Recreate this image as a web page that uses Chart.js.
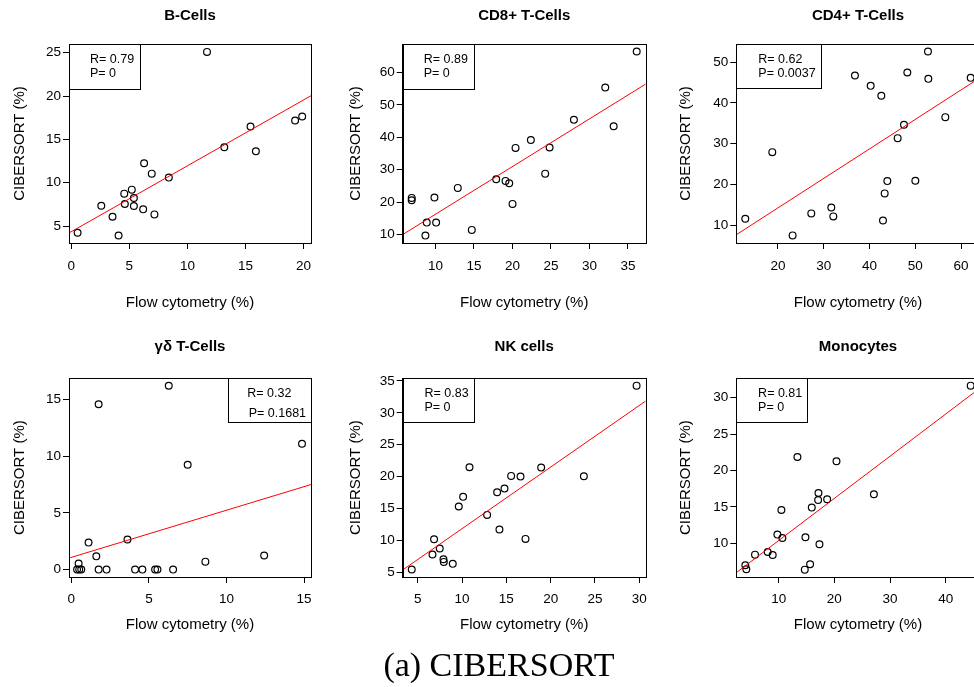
<!DOCTYPE html>
<html>
<head>
<meta charset="utf-8">
<script src="https://cdn.jsdelivr.net/npm/chart.js@4.4.1/dist/chart.umd.min.js"></script>
<style>
  html, body { margin: 0; padding: 0; background: #fff; }
  #page { position: relative; width: 974px; height: 687px; overflow: hidden; background: #fff; }
  canvas { position: absolute; }
  #caption {
    position: absolute; left: 0; width: 998px; top: 648px; text-align: center;
    font-family: "Liberation Serif", "DejaVu Serif", serif; font-size: 34px; line-height: 34px; color: #000;
  }
</style>
</head>
<body>
<div id="page">
  <canvas id="c1"></canvas>
  <canvas id="c2"></canvas>
  <canvas id="c3"></canvas>
  <canvas id="c4"></canvas>
  <canvas id="c5"></canvas>
  <canvas id="c6"></canvas>
  <div id="caption">(a) CIBERSORT</div>
</div>
<script>
// Данные
const bX = [0.54, 2.58, 3.55, 4.07, 4.56, 4.61, 5.21, 5.39, 5.39, 6.27, 6.19, 6.93, 7.16, 8.4, 11.69, 13.18, 15.44, 15.9, 19.28, 19.89];
const bY = [4.23, 7.35, 6.08, 3.92, 8.74, 7.54, 9.2, 8.24, 7.31, 12.24, 6.93, 11.05, 6.35, 10.59, 25.09, 14.09, 16.48, 13.63, 17.18, 17.64];
const bFit = [4.36, 0.759];
const bStats = ['R= 0.79', 'P= 0'];
const bXTicks = [0, 5, 10, 15, 20];
const bYTicks = [5, 10, 15, 20, 25];

const cd8X = [6.92, 6.92, 8.7, 8.87, 9.87, 10.09, 12.9, 14.72, 17.89, 19.1, 19.58, 20.01, 20.4, 22.39, 24.25, 24.82, 27.98, 32.05, 33.14, 36.13];
const cd8Y = [21.32, 20.6, 9.69, 13.7, 21.42, 13.7, 24.4, 11.44, 27.08, 26.56, 25.84, 19.47, 36.75, 39.2, 28.8, 36.85, 45.4, 55.37, 43.44, 66.48];
const cd8Fit = [1.54, 1.472];
const cd8Stats = ['R= 0.89', 'P= 0'];
const cd8XTicks = [10, 15, 20, 25, 30, 35];
const cd8YTicks = [10, 20, 30, 40, 50, 60];

const cd4X = [12.86, 18.76, 23.2, 27.28, 31.65, 32.09, 36.82, 40.25, 42.58, 42.94, 43.31, 43.89, 46.15, 47.53, 48.26, 50.01, 52.77, 52.85, 56.56, 62.1];
const cd4Y = [11.55, 27.9, 7.47, 12.86, 14.33, 12.13, 46.71, 44.18, 41.73, 11.14, 17.77, 20.79, 31.34, 34.61, 47.45, 20.87, 52.6, 45.9, 36.49, 46.14];
const cd4Fit = [-0.26, 0.724];
const cd4Stats = ['R= 0.62', 'P= 0.0037'];
const cd4XTicks = [20, 30, 40, 50, 60];
const cd4YTicks = [10, 20, 30, 40, 50];

const gdX = [0.37, 0.51, 0.64, 0.47, 1.11, 1.61, 1.76, 1.76, 2.27, 3.62, 4.11, 4.58, 5.4, 5.55, 6.28, 6.56, 7.5, 8.64, 12.43, 14.87];
const gdY = [0, 0, 0, 0.53, 2.38, 1.17, 14.56, 0, 0, 2.65, 0, 0, 0, 0, 16.2, 0, 9.24, 0.7, 1.24, 11.09];
const gdFit = [1.08, 0.415];
const gdStats = ['R= 0.32', 'P= 0.1681'];
const gdXTicks = [0, 5, 10, 15];
const gdYTicks = [0, 5, 10, 15];

const nkX = [4.32, 6.66, 6.84, 7.48, 7.9, 7.94, 8.95, 9.63, 10.12, 10.84, 12.83, 13.96, 14.22, 14.79, 15.54, 16.6, 17.16, 18.93, 23.75, 29.7];
const nkY = [5.42, 7.77, 10.17, 8.71, 7.04, 6.62, 6.31, 15.3, 16.82, 21.47, 13.99, 17.55, 11.69, 18.12, 20.11, 20.0, 10.23, 21.41, 20.05, 34.27];
const nkFit = [2.17, 0.966];
const nkStats = ['R= 0.83', 'P= 0'];
const nkXTicks = [5, 10, 15, 20, 25, 30];
const nkYTicks = [5, 10, 15, 20, 25, 30, 35];

const moX = [4.0, 4.18, 5.74, 8.02, 8.92, 9.76, 10.48, 10.66, 13.36, 14.68, 14.8, 15.64, 15.94, 17.08, 17.14, 17.32, 18.7, 20.38, 27.1, 44.49];
const moY = [6.98, 6.43, 8.44, 8.81, 8.4, 11.19, 14.58, 10.73, 21.85, 6.38, 10.82, 7.12, 14.9, 15.95, 16.91, 9.86, 16.04, 21.26, 16.73, 31.65];
const moFit = [4.59, 0.579];
const moStats = ['R= 0.81', 'P= 0'];
const moXTicks = [10, 20, 30, 40];
const moYTicks = [10, 15, 20, 25, 30];

Chart.defaults.font.family = '"Liberation Sans", Arial, sans-serif';
Chart.defaults.color = '#000';

// Геометрия колонок и рядов (px)
const cols = [
  { left: 0,   width: 325, yAxisW: 69,   yTitlePad: 11,   padRight: 14 },
  { left: 326, width: 330, yAxisW: 76.7, yTitlePad: 20.7, padRight: 10.3 },
  { left: 656, width: 340, yAxisW: 80.3, yTitlePad: 20.7, padRight: 16.3 }
];
const rows = [
  { top: 0,   height: 325, titleTop: 7,   titleBottom: 19,   xAxisH: 82, xTitlePad: 13, xTickPad: 9 },
  { top: 330, height: 335, titleTop: 8.2, titleBottom: 22.1, xAxisH: 88, xTitlePad: 31, xTickPad: 8 }
];

// Рамка вокруг области графика + легенда с R и P
const boxPlugin = {
  id: 'rbox',
  afterDraw(chart, args, opts) {
    const { ctx, chartArea: a } = chart;
    ctx.save();
    ctx.strokeStyle = '#000';
    ctx.lineWidth = 1;
    ctx.strokeRect(Math.round(a.left) + 0.5, Math.round(a.top) + 0.5, Math.round(a.right - a.left), Math.round(a.bottom - a.top));
    const lg = opts.legend;
    const bx = lg.right ? a.right - lg.w : a.left;
    ctx.strokeRect(Math.round(bx) + 0.5, Math.round(a.top) + 0.5, Math.round(lg.w), Math.round(lg.h));
    ctx.fillStyle = '#000';
    ctx.font = '12.5px "Liberation Sans", Arial, sans-serif';
    ctx.textBaseline = 'middle';
    ctx.textAlign = 'left';
    ctx.fillText(opts.stats[0], bx + lg.tx[0], a.top + lg.ty[0]);
    ctx.fillText(opts.stats[1], bx + lg.tx[1], a.top + lg.ty[1]);
    ctx.restore();
  }
};

function makePanel(id, col, row, title, xs, ys, fit, stats, xTicks, yTicks, xr, yr, legend) {
  const c = cols[col], r = rows[row];
  const el = document.getElementById(id);
  el.width = c.width;
  el.height = r.height;
  el.style.left = c.left + 'px';
  el.style.top = r.top + 'px';

  const pts = xs.map((x, i) => ({ x: x, y: ys[i] }));
  const line = [xr[0], xr[1]].map(x => ({ x: x, y: fit[0] + fit[1] * x }));

  new Chart(el, {
    type: 'scatter',
    data: {
      datasets: [
        { type: 'line', data: line, borderColor: '#ff0000', borderWidth: 1, pointRadius: 0, order: 0 },
        { data: pts, pointRadius: 3.4, pointBorderWidth: 1.2, pointBorderColor: '#000',
          pointBackgroundColor: 'rgba(0,0,0,0)', order: 1 }
      ]
    },
    options: {
      responsive: false,
      animation: false,
      layout: { padding: { left: 0, top: 0, right: c.padRight, bottom: 0 } },
      plugins: {
        legend: { display: false },
        tooltip: { enabled: false },
        title: {
          display: true, text: title, fullSize: false,
          font: { size: 15, weight: 'bold' },
          padding: { top: r.titleTop, bottom: r.titleBottom }
        },
        rbox: { stats: stats, legend: legend }
      },
      scales: {
        x: {
          type: 'linear', min: xr[0], max: xr[1],
          afterBuildTicks: s => { s.ticks = xTicks.map(v => ({ value: v })); },
          afterFit: s => { s.height = r.xAxisH; },
          ticks: { font: { size: 13.5 }, padding: r.xTickPad, maxRotation: 0, autoSkip: false },
          grid: { drawOnChartArea: false, drawTicks: true, tickLength: 6, color: '#000' },
          border: { display: true, color: '#000' },
          title: { display: true, text: 'Flow cytometry (%)', font: { size: 15 }, padding: { top: 0, bottom: r.xTitlePad } }
        },
        y: {
          type: 'linear', min: yr[0], max: yr[1],
          afterBuildTicks: s => { s.ticks = yTicks.map(v => ({ value: v })); },
          afterFit: s => { s.width = c.yAxisW; },
          ticks: { font: { size: 13.5 }, padding: 2, autoSkip: false },
          grid: { drawOnChartArea: false, drawTicks: true, tickLength: 6, color: '#000' },
          border: { display: true, color: '#000' },
          title: { display: true, text: 'CIBERSORT (%)', font: { size: 15 }, padding: { top: c.yTitlePad, bottom: 0 } }
        }
      }
    },
    plugins: [boxPlugin]
  });
}

const topLegend = { right: false, w: 70.5, h: 44.5, tx: [21, 21], ty: [16, 29.3] };
const wideLegend = { right: false, w: 84.7, h: 44.3, tx: [22, 22], ty: [16, 29.3] };
const lowLegend = { right: false, w: 71, h: 43.7, tx: [21.8, 21.8], ty: [15.7, 29.4] };
const gdLegend = { right: true, w: 83.3, h: 43.7, tx: [19.6, 21], ty: [15.7, 35.7] };

makePanel('c1', 0, 0, 'B-Cells', bX, bY, bFit, bStats, bXTicks, bYTicks, [-0.2, 20.65], [3.05, 26.0], topLegend);
makePanel('c2', 1, 0, 'CD8+ T-Cells', cd8X, cd8Y, cd8Fit, cd8Stats, cd8XTicks, cd8YTicks, [5.75, 37.3], [7.4, 68.8], topLegend);
makePanel('c3', 2, 0, 'CD4+ T-Cells', cd4X, cd4Y, cd4Fit, cd4Stats, cd4XTicks, cd4YTicks, [10.9, 64.07], [5.6, 54.45], wideLegend);
makePanel('c4', 0, 1, 'γδ T-Cells', gdX, gdY, gdFit, gdStats, gdXTicks, gdYTicks, [-0.15, 15.45], [-0.65, 16.85], gdLegend);
makePanel('c5', 1, 1, 'NK cells', nkX, nkY, nkFit, nkStats, nkXTicks, nkYTicks, [3.3, 30.73], [4.25, 35.42], lowLegend);
makePanel('c6', 2, 1, 'Monocytes', moX, moY, moFit, moStats, moXTicks, moYTicks, [2.38, 46.11], [5.37, 32.66], lowLegend);
</script>
</body>
</html>
